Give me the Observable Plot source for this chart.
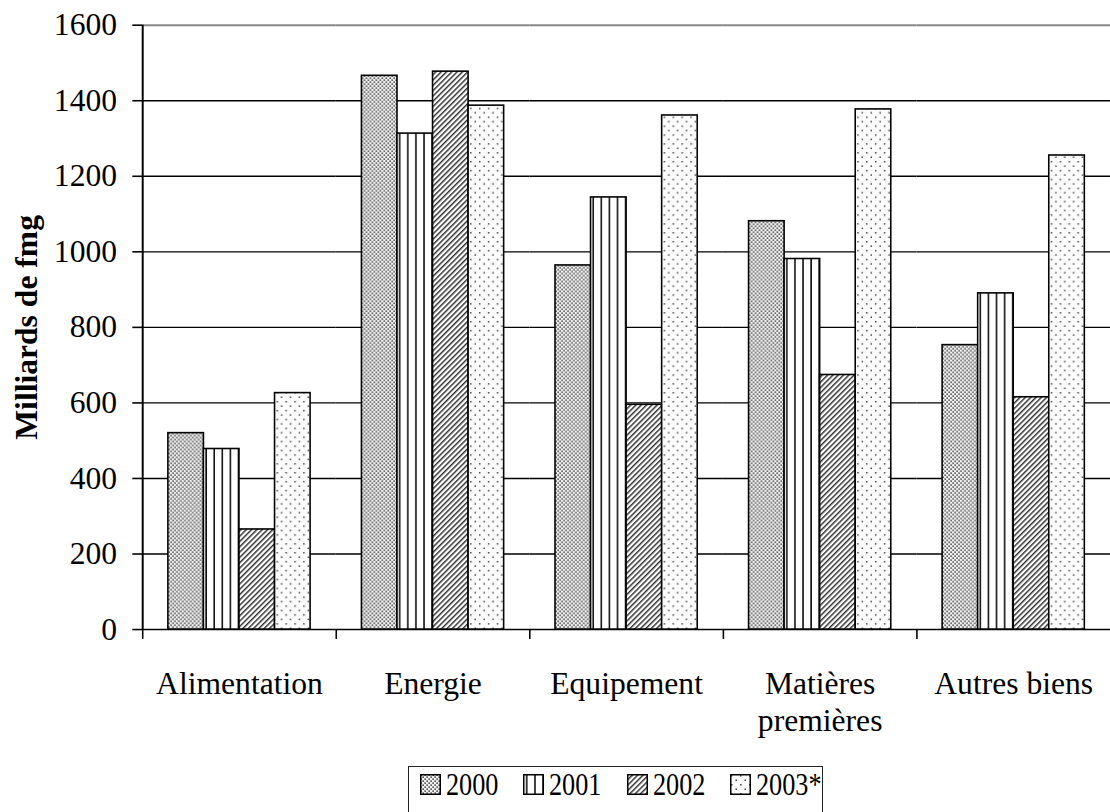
<!DOCTYPE html>
<html><head><meta charset="utf-8">
<script src="https://cdn.jsdelivr.net/npm/d3@7"></script>
<script src="https://cdn.jsdelivr.net/npm/@observablehq/plot@0.6"></script>
<style>
html,body{margin:0;padding:0;background:#fff;overflow:hidden;width:1110px;height:812px;position:relative;}
#chart{position:absolute;left:0;top:0;}
#chart svg, #chart svg text{font-family:"Liberation Serif","Times New Roman",serif;}
g[aria-label="y-axis label"] text{font-weight:bold;}
#legend{position:absolute;left:408px;top:766px;width:415px;height:80px;border:1.5px solid #222;box-sizing:border-box;display:flex;align-items:flex-start;padding:1px 0 0 11px;font-family:"Liberation Serif","Times New Roman",serif;font-size:32px;line-height:32px;color:#000;}
.item{display:flex;align-items:center;height:32px;white-space:nowrap;}
.sw{display:block;margin-right:5px;}
.lab{display:inline-block;transform:scaleX(0.82);transform-origin:left center;}
</style>
</head><body>
<svg width="0" height="0" style="position:absolute">
<defs>
<pattern id="pat0" width="4" height="4" patternUnits="userSpaceOnUse"><rect width="4" height="4" fill="#f0f0f0"/><rect x="0.4" y="0.4" width="1.5" height="1.5" fill="#3a3a3a"/><rect x="2.4" y="2.4" width="1.5" height="1.5" fill="#3a3a3a"/></pattern>
<pattern id="pat1" width="8.2" height="10" patternUnits="userSpaceOnUse"><rect width="8.2" height="10" fill="#fff"/><rect x="3" width="1.5" height="10" fill="#000"/></pattern>
<pattern id="pat2" width="3.8" height="3.8" patternUnits="userSpaceOnUse" patternTransform="rotate(45)"><rect width="3.8" height="3.8" fill="#fff"/><rect width="1.5" height="3.8" fill="#333"/></pattern>
<pattern id="pat3" width="9" height="9" patternUnits="userSpaceOnUse"><rect width="9" height="9" fill="#fcfcfc"/><rect x="1" y="1" width="1.5" height="1.5" fill="#444"/><rect x="5.5" y="5.5" width="1.5" height="1.5" fill="#444"/></pattern>
</defs></svg>
<div id="chart"></div>
<div id="legend"></div>
<script>
const categories = ["Alimentation", "Energie", "Equipement", "Matières\npremières", "Autres biens"];
const years = ["2000", "2001", "2002", "2003*"];
const v2000 = [520, 1466, 964, 1081, 753];
const v2001 = [478, 1313, 1144, 981, 890];
const v2002 = [265, 1477, 595, 674, 615];
const v2003 = [626, 1387, 1361, 1377, 1255];
const yTicks = [0, 200, 400, 600, 800, 1000, 1200, 1400, 1600];
const yLabel = "Milliards de fmg";

const series = [v2000, v2001, v2002, v2003];
const data = categories.flatMap((c, i) => years.map((y, j) => ({category: c, year: y, value: series[j][i]})));

const W = 1124, ML = 144, MR = 0, H = 766, MT = 25, MB = 129;
const step = (W - ML - MR) / categories.length;
const FONT = '"Liberation Serif", "Times New Roman", serif';
const yMax = yTicks[yTicks.length - 1];

const plot = Plot.plot({
  width: W, height: H,
  marginLeft: ML, marginRight: MR, marginTop: MT, marginBottom: MB,
  style: {fontFamily: FONT, fontSize: "32px", color: "#000", background: "transparent", overflow: "visible"},
  fx: {domain: categories, padding: 0, axis: null, label: null},
  x: {domain: years, paddingInner: 0, paddingOuter: 0.7, axis: null},
  y: {domain: [0, yMax], axis: null},
  color: {domain: years, range: years.map((_, i) => `url(#pat${i})`)},
  marks: [
    Plot.ruleY(yTicks.filter(t => t < yMax), {stroke: "#000", strokeWidth: 1.4}),
    Plot.ruleY([yMax], {stroke: "#888", strokeWidth: 2}),
    Plot.barY(data, {fx: "category", x: "year", y: "value", fill: "year", stroke: "#000", strokeWidth: 1.6}),
    Plot.ruleX([categories[0]], {fx: d => d, x: null, dx: -step / 2, y1: 0, y2: yMax, stroke: "#000", strokeWidth: 2}),
    Plot.axisY({ticks: yTicks, tickFormat: d => String(d), tickSize: 10, tickPadding: 16, fontSize: 32, strokeWidth: 1.6,
      label: yLabel, labelAnchor: "center", labelOffset: 130, labelArrow: "none"}),
    Plot.axisFx({anchor: "bottom", label: null, tickSize: 10, tickFormat: () => "", dx: -step / 2, strokeWidth: 1.6}),
    Plot.axisFx({anchor: "bottom", label: null, tickSize: 0, tickPadding: 38, fontSize: 32, lineHeight: 1.19})
  ]
});
document.getElementById("chart").appendChild(plot);

const color = plot.scale("color");
const legend = document.getElementById("legend");
years.forEach((y, i) => {
  const item = document.createElement("div");
  item.className = "item";
  const sw = document.createElementNS("http://www.w3.org/2000/svg", "svg");
  sw.setAttribute("width", 21); sw.setAttribute("height", 21);
  sw.setAttribute("class", "sw");
  const r = document.createElementNS("http://www.w3.org/2000/svg", "rect");
  r.setAttribute("x", 0.75); r.setAttribute("y", 0.75);
  r.setAttribute("width", 19.5); r.setAttribute("height", 19.5);
  r.setAttribute("fill", color.range[i]);
  r.setAttribute("stroke", "#000"); r.setAttribute("stroke-width", 1.5);
  sw.appendChild(r);
  const lab = document.createElement("span");
  lab.className = "lab";
  lab.textContent = y;
  item.appendChild(sw); item.appendChild(lab);
  legend.appendChild(item);
  const w = lab.offsetWidth;
  lab.style.marginRight = (i < years.length - 1 ? 25 - w * 0.18 : 0) + "px";
});
</script>
</body></html>
